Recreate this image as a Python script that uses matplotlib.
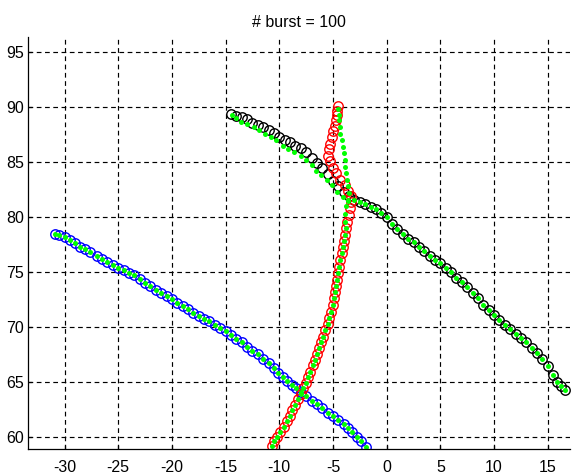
import numpy as np
import matplotlib
matplotlib.use("Agg")
import matplotlib.pyplot as plt

plt.rcParams['font.family'] = ['Liberation Sans', 'DejaVu Sans']
plt.rcParams['axes.unicode_minus'] = False

title = "# burst = 100"

# blue track (circles), its estimates sit on it
blue_x = [-30.9, -30.5, -30.0, -29.5, -29.0, -28.6, -28.1, -27.6, -27.0, -26.5,
          -26.0, -25.5, -25.0, -24.5, -24.0, -23.5, -23.0, -22.5, -22.0, -21.5,
          -21.0, -20.5, -20.0, -19.5, -19.0, -18.5, -18.0, -17.5, -17.0, -16.5,
          -16.0, -15.5, -15.0, -14.5, -14.0, -13.5, -13.0, -12.5, -12.0, -11.5,
          -11.0, -10.5, -10.1, -9.7, -9.3, -8.8, -8.4, -8.0, -7.5, -7.0,
          -6.5, -6.0, -5.5, -5.0, -4.5, -4.0, -3.6, -3.2, -2.8, -2.4, -1.9]
blue_y = [78.5, 78.4, 78.2, 77.9, 77.6, 77.3, 77.1, 76.8, 76.5, 76.2,
          75.9, 75.6, 75.4, 75.2, 74.9, 74.7, 74.4, 74.0, 73.7, 73.4,
          73.1, 72.8, 72.5, 72.2, 71.9, 71.6, 71.3, 71.0, 70.7, 70.5,
          70.2, 69.9, 69.6, 69.3, 68.9, 68.6, 68.2, 67.8, 67.5, 67.1,
          66.7, 66.3, 65.8, 65.4, 65.1, 64.7, 64.4, 64.1, 63.7, 63.3,
          63.0, 62.6, 62.2, 61.9, 61.5, 61.2, 60.8, 60.4, 60.0, 59.6, 59.1]

# black track (circles)
black_x = [-14.5, -14.0, -13.5, -13.0, -12.5, -12.0, -11.5, -11.0, -10.5, -10.0,
           -9.5, -9.0, -8.5, -8.0, -7.5, -7.0, -6.5, -6.0, -5.5, -5.0,
           -4.5, -4.0, -3.5, -3.0, -2.5, -2.0, -1.5, -1.0, -0.5, 0.0,
           0.5, 1.0, 1.5, 2.0, 2.5, 3.0, 3.5, 4.0, 4.5, 5.0,
           5.5, 6.0, 6.5, 7.0, 7.5, 8.0, 8.5, 9.0, 9.5, 10.0,
           10.5, 11.0, 11.5, 12.0, 12.5, 13.0, 13.5, 14.0, 14.5, 15.0,
           15.5, 15.9, 16.2, 16.6]
black_y = [89.4, 89.2, 89.1, 88.9, 88.6, 88.4, 88.2, 87.9, 87.7, 87.3,
           87.0, 86.8, 86.5, 86.3, 85.9, 85.4, 84.9, 84.5, 83.9, 83.3,
           82.8, 82.3, 81.9, 81.6, 81.4, 81.2, 80.9, 80.7, 80.4, 80.0,
           79.4, 78.9, 78.5, 78.0, 77.7, 77.3, 76.9, 76.5, 76.1, 75.8,
           75.4, 75.0, 74.5, 74.1, 73.6, 73.1, 72.6, 72.0, 71.5, 71.1,
           70.6, 70.2, 69.8, 69.4, 69.0, 68.6, 68.1, 67.6, 67.1, 66.4,
           65.6, 65.0, 64.6, 64.3]

# green estimates of the black track where they leave it
gblack_x = [-14.4, -14.0, -13.6, -13.0, -12.4, -11.9, -11.3, -10.8, -10.3, -9.7,
            -9.2, -8.6, -8.0, -7.5, -7.0, -6.6, -6.1, -5.6, -5.1, -4.6,
            -4.1, -3.6]
gblack_y = [89.3, 89.0, 88.7, 88.5, 88.2, 87.9, 87.6, 87.3, 87.0, 86.5,
            86.2, 85.9, 85.6, 85.2, 84.7, 84.2, 83.8, 83.4, 82.9, 82.3,
            81.8, 81.5]

# red track (circles), bottom to top
red_x = [-10.7, -10.5, -10.2, -9.9, -9.6, -9.3, -9.0, -8.8, -8.5, -8.3,
         -8.0, -7.8, -7.5, -7.3, -7.1, -6.9, -6.7, -6.5, -6.3, -6.1,
         -5.9, -5.7, -5.5, -5.4, -5.2, -5.0, -4.9, -4.8, -4.7, -4.6,
         -4.5, -4.4, -4.3, -4.2, -4.1, -4.0, -3.9, -3.8, -3.7, -3.5,
         -3.4, -3.3, -3.3, -3.6, -3.9, -4.3, -4.7, -5.0, -5.3, -5.5,
         -5.4, -5.3, -5.1, -5.0, -4.8, -4.7, -4.6, -4.6, -4.5]
red_y = [59.2, 59.6, 60.0, 60.4, 60.9, 61.4, 61.9, 62.4, 62.9, 63.4,
         63.9, 64.4, 64.9, 65.4, 65.9, 66.5, 67.0, 67.5, 68.1, 68.6,
         69.1, 69.7, 70.3, 70.8, 71.4, 72.0, 72.6, 73.2, 73.7, 74.3,
         74.9, 75.5, 76.1, 76.7, 77.3, 77.8, 78.4, 79.0, 79.6, 80.2,
         80.8, 81.4, 81.9, 82.4, 82.9, 83.4, 84.0, 84.5, 85.1, 85.6,
         86.2, 86.7, 87.3, 87.8, 88.3, 88.8, 89.3, 89.7, 90.1]

# green estimates of the red track above y = 79
gred_x = [-3.9, -3.9, -3.8, -3.6, -3.5, -3.6, -3.7, -3.8, -3.9, -3.9,
          -4.0, -4.1, -4.2, -4.3, -4.3, -4.4, -4.4, -4.5]
gred_y = [79.6, 80.3, 81.0, 81.6, 82.2, 82.8, 83.4, 84.0, 84.6, 85.2,
          85.8, 86.4, 87.0, 87.6, 88.2, 88.8, 89.3, 89.8]

xticks = [-30, -25, -20, -15, -10, -5, 0, 5, 10, 15]
yticks = [60, 65, 70, 75, 80, 85, 90, 95]

fig = plt.figure(figsize=(5.72, 4.74), dpi=100)
ax = fig.add_axes([0.049, 0.053, 0.948, 0.869])

circ = dict(marker='o', linestyle='none', ms=6.8, mfc='none', mew=1.0)
dot = dict(marker='o', linestyle='none', ms=3.6, mfc=(0, 1, 0), mec=(0, 1, 0), mew=0)

ax.plot(blue_x, blue_y, mec=(0, 0, 1), **circ)
ax.plot(black_x, black_y, mec='k', **circ)
ax.plot(red_x, red_y, mec=(1, 0, 0), **circ)

bx = np.array(black_x)
by = np.array(black_y)
rx = np.array(red_x)
ry = np.array(red_y)
gbx = np.concatenate([gblack_x, bx[bx > -3.2]])
gby = np.concatenate([gblack_y, by[bx > -3.2]])
grx = np.concatenate([rx[ry < 79.3], gred_x])
gry = np.concatenate([ry[ry < 79.3], gred_y])

ax.plot(blue_x, blue_y, **dot)
ax.plot(gbx, gby, **dot)
ax.plot(grx, gry, **dot)

ax.set_xlim(-33.4, 17.1)
ax.set_ylim(58.9, 96.4)
ax.set_xticks(xticks)
ax.set_yticks(yticks)
ax.grid(True, color='k', linestyle=(0, (4, 3)), linewidth=0.85)
ax.set_axisbelow(True)
ax.spines['top'].set_visible(False)
ax.spines['right'].set_visible(False)
ax.spines['left'].set_linewidth(0.9)
ax.spines['bottom'].set_linewidth(0.9)
ax.tick_params(direction='in', length=3, width=0.9, labelsize=11.5, pad=3)
ax.tick_params(axis='x', pad=8)
ax.set_title(title, fontsize=11.5, pad=7)

fig.savefig("out.png", dpi=100)
